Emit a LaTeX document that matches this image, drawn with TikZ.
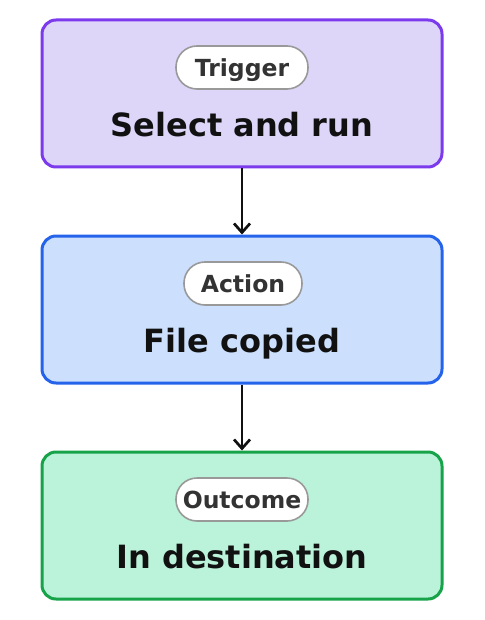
\documentclass[tikz,border=0pt]{standalone}
\usepackage{fontspec}
\setmainfont{DejaVu Sans}
\usepackage{tikz}
\usetikzlibrary{
    arrows.meta,
    positioning
}
\definecolor{trigFill}{HTML}{DDD6F8}
\definecolor{trigLine}{HTML}{7C3AED}
\definecolor{actFill}{HTML}{CCE0FE}
\definecolor{actLine}{HTML}{2563EB}
\definecolor{outFill}{HTML}{BBF3DA}
\definecolor{outLine}{HTML}{16A34A}
\definecolor{tagLine}{HTML}{999999}
\definecolor{tagText}{HTML}{333333}
\definecolor{ink}{HTML}{111111}
\tikzset{
  stage/.style  = {draw, rounded corners=14pt, line width=3pt,
                   minimum width=400pt, minimum height=147pt},
  tag/.style    = {draw=tagLine, fill=white, rounded corners=21pt,
                   line width=1.6pt, minimum height=43pt, inner xsep=6pt,
                   text height=17.2pt, text depth=0pt,
                   font=\bfseries\fontsize{23.5}{26}\selectfont,
                   text=tagText},
  title/.style  = {font=\bfseries\fontsize{32}{36}\selectfont, text=ink,
                   text height=23.4pt, text depth=0pt, inner sep=0pt},
  arr/.style    = {-{Straight Barb[length=9pt,width=16pt]}, line width=2.7pt, ink}
}

\begin{document}
\begin{tikzpicture}[x=1pt,y=1pt]
    \useasboundingbox (0,0) rectangle (484,-620);

    % stages
    \node[stage, fill=trigFill, draw=trigLine] (S1) at (242,-93.5) {};
    \node[stage, fill=actFill, draw=actLine] (S2) at (242,-309.5) {};
    \node[stage, fill=outFill, draw=outLine] (S3) at (242,-525.5) {};

    \node[tag, minimum width=132pt] (t1) at (242,-67.5) {Trigger};
    \node[tag, minimum width=118pt] (t2) at (243,-283.5) {Action};
    \node[tag, minimum width=132pt] (t3) at (242,-499.5) {Outcome};

    \node[title] (s1) at (242,-124.5) {Select and run};
    \node[title] (s2) at (242,-340.5) {File copied};
    \node[title] (s3) at (242,-556.5) {In destination};

    \draw[arr] (S1) -- (S2);
    \draw[arr] (S2) -- (S3);
  \end{tikzpicture}
\end{document}
